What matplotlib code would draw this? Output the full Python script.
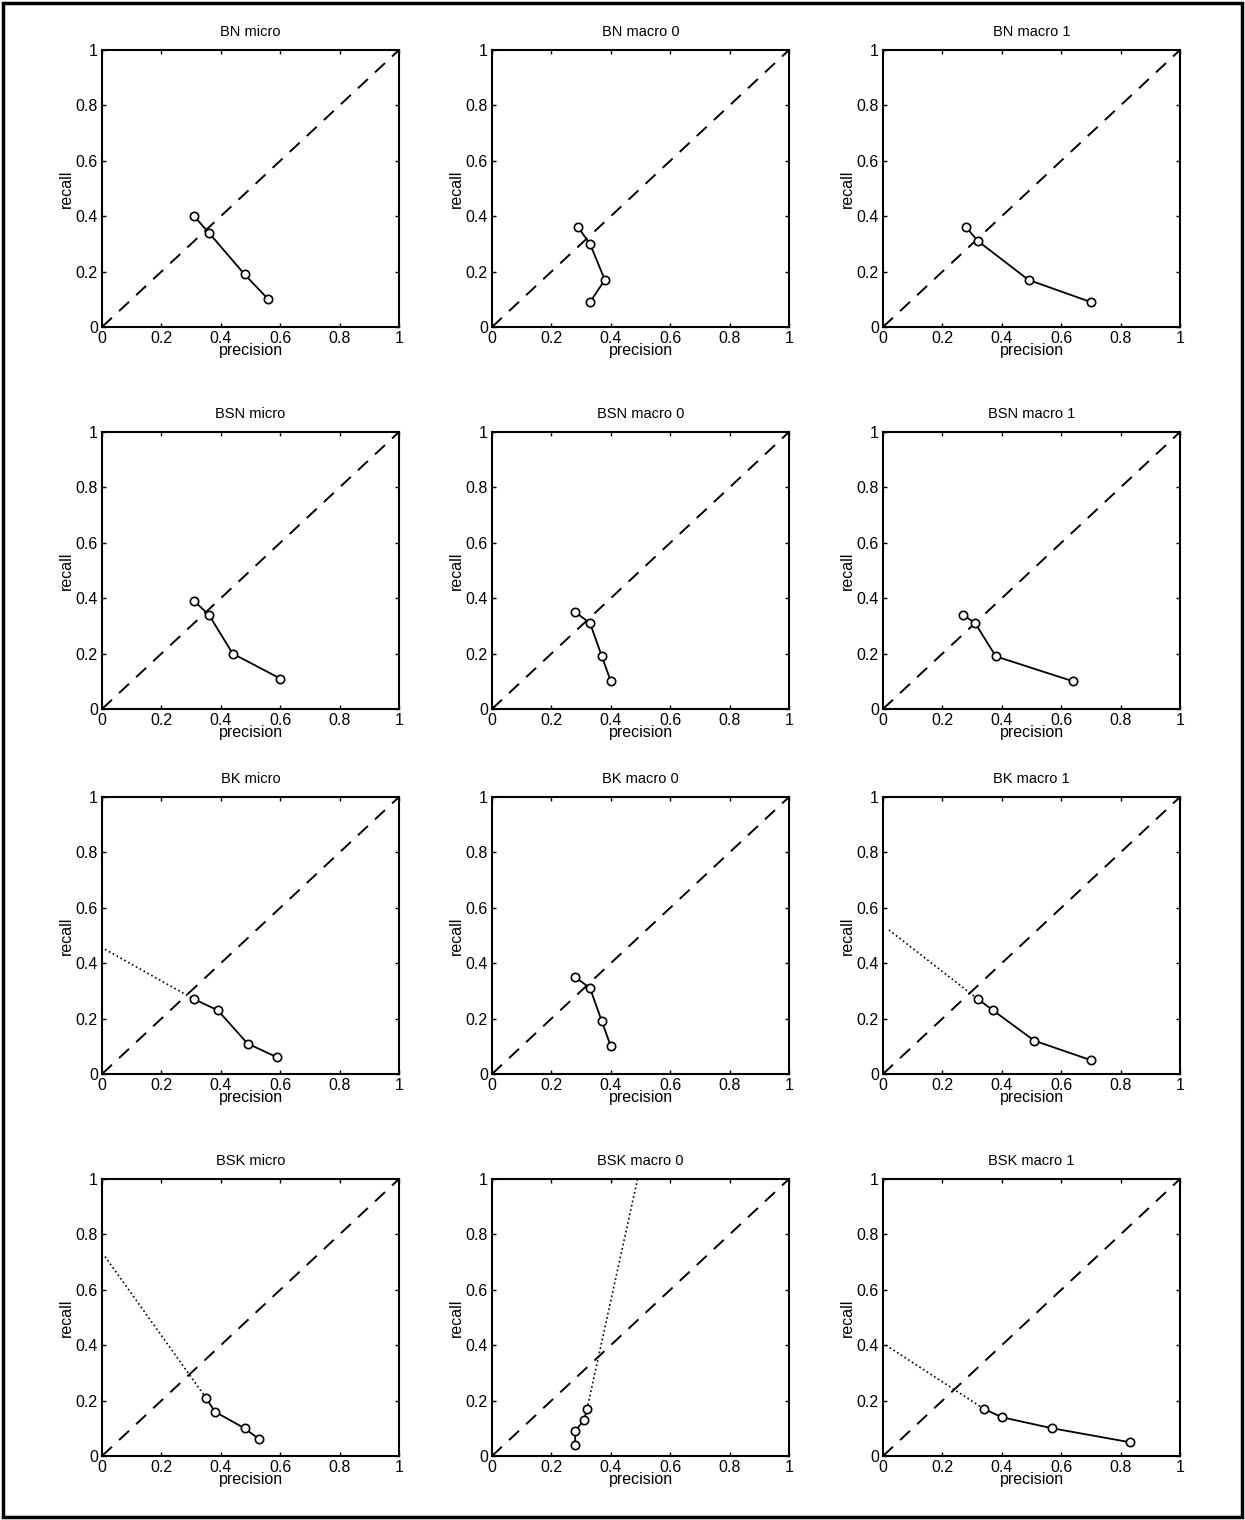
import matplotlib
matplotlib.use("Agg")
import matplotlib.pyplot as plt
from matplotlib.patches import Rectangle

plt.rcParams["font.family"] = ["Liberation Sans", "DejaVu Sans"]

titles = [
    "BN micro", "BN macro 0", "BN macro 1",
    "BSN micro", "BSN macro 0", "BSN macro 1",
    "BK micro", "BK macro 0", "BK macro 1",
    "BSK micro", "BSK macro 0", "BSK macro 1",
]

# precision / recall for each panel
bn_micro_p = [0.31, 0.36, 0.48, 0.56]
bn_micro_r = [0.40, 0.34, 0.19, 0.10]
bn_macro0_p = [0.29, 0.33, 0.38, 0.33]
bn_macro0_r = [0.36, 0.30, 0.17, 0.09]
bn_macro1_p = [0.28, 0.32, 0.49, 0.70]
bn_macro1_r = [0.36, 0.31, 0.17, 0.09]

bsn_micro_p = [0.31, 0.36, 0.44, 0.60]
bsn_micro_r = [0.39, 0.34, 0.20, 0.11]
bsn_macro0_p = [0.28, 0.33, 0.37, 0.40]
bsn_macro0_r = [0.35, 0.31, 0.19, 0.10]
bsn_macro1_p = [0.27, 0.31, 0.38, 0.64]
bsn_macro1_r = [0.34, 0.31, 0.19, 0.10]

bk_micro_p = [0.31, 0.39, 0.49, 0.59]
bk_micro_r = [0.27, 0.23, 0.11, 0.06]
bk_macro0_p = [0.28, 0.33, 0.37, 0.40]
bk_macro0_r = [0.35, 0.31, 0.19, 0.10]
bk_macro1_p = [0.32, 0.37, 0.51, 0.70]
bk_macro1_r = [0.27, 0.23, 0.12, 0.05]

bsk_micro_p = [0.35, 0.38, 0.48, 0.53]
bsk_micro_r = [0.21, 0.16, 0.10, 0.06]
bsk_macro0_p = [0.32, 0.31, 0.28, 0.28]
bsk_macro0_r = [0.17, 0.13, 0.09, 0.04]
bsk_macro1_p = [0.34, 0.40, 0.57, 0.83]
bsk_macro1_r = [0.17, 0.14, 0.10, 0.05]

# dotted extrapolation end points (None = no dotted line)
extrap = [
    None, None, None,
    None, None, None,
    (0.01, 0.45), None, (0.02, 0.52),
    (0.01, 0.72), (0.49, 1.0), (0.01, 0.40),
]

prec = [bn_micro_p, bn_macro0_p, bn_macro1_p,
        bsn_micro_p, bsn_macro0_p, bsn_macro1_p,
        bk_micro_p, bk_macro0_p, bk_macro1_p,
        bsk_micro_p, bsk_macro0_p, bsk_macro1_p]
rec = [bn_micro_r, bn_macro0_r, bn_macro1_r,
       bsn_micro_r, bsn_macro0_r, bsn_macro1_r,
       bk_micro_r, bk_macro0_r, bk_macro1_r,
       bsk_micro_r, bsk_macro0_r, bsk_macro1_r]

ticks = [0, 0.2, 0.4, 0.6, 0.8, 1]
tick_labels = ["0", "0.2", "0.4", "0.6", "0.8", "1"]

W, H = 1245, 1520
fig = plt.figure(figsize=(W / 100, H / 100), dpi=100)

col_left = [102, 492, 883]
row_top = [50, 432, 797, 1179]
ax_w, ax_h = 297, 277

for i, title in enumerate(titles):
    r, c = divmod(i, 3)
    ax = fig.add_axes([col_left[c] / W, 1 - (row_top[r] + ax_h) / H, ax_w / W, ax_h / H])
    ax.plot([0, 1], [0, 1], "k--", lw=1.4, dashes=(7, 5))
    if extrap[i] is not None:
        ex, ey = extrap[i]
        ax.plot([ex, prec[i][0]], [ey, rec[i][0]], "k:", lw=1.2)
    ax.plot(prec[i], rec[i], "k-", lw=1.3, marker="o", ms=6, mfc="white", mew=1.2)
    ax.set_xlim(0, 1)
    ax.set_ylim(0, 1)
    ax.set_xticks(ticks)
    ax.set_yticks(ticks)
    ax.set_xticklabels(tick_labels)
    ax.set_yticklabels(tick_labels)
    ax.tick_params(direction="in", length=3, width=1, top=True, right=True,
                   labelsize=11.5, pad=3)
    for s in ax.spines.values():
        s.set_linewidth(1.5)
    ax.set_title(title, fontsize=10.5, pad=10)
    ax.set_xlabel("precision", fontsize=11.5, labelpad=-2)
    ax.set_ylabel("recall", fontsize=11.5, labelpad=1)

fig.add_artist(Rectangle((3 / W, 3 / H), 1 - 6 / W, 1 - 6 / H, transform=fig.transFigure,
                         fill=False, ec="black", lw=2.5))

fig.savefig("out.png", dpi=100)
